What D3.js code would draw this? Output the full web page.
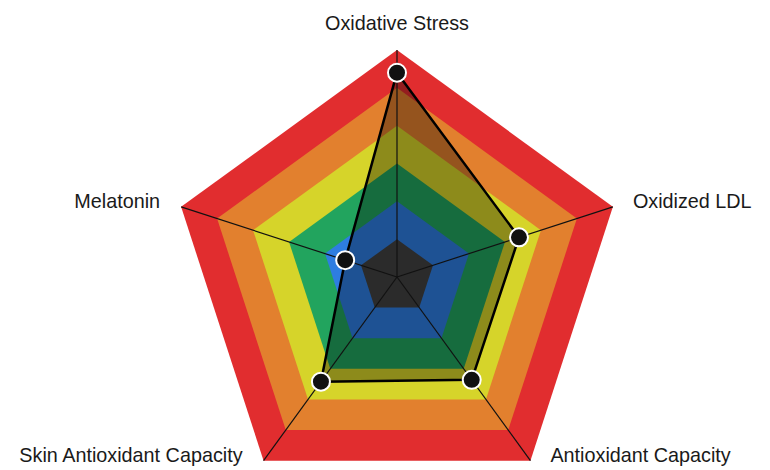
<!DOCTYPE html>
<html>
<head>
<meta charset="utf-8">
<script src="https://cdn.jsdelivr.net/npm/d3@7"></script>
<style>
  body { margin: 0; background: #fff; }
  svg { display: block; }
  text { font-family: "Liberation Sans", Arial, sans-serif; font-size: 19.8px; fill: #1a1a1a; }
</style>
</head>
<body>
<div id="chart"></div>
<script>
// axes, going clockwise from the top
var axes = ["Oxidative Stress", "Oxidized LDL", "Antioxidant Capacity", "Skin Antioxidant Capacity", "Melatonin"];
var values = [90, 56.5, 56, 57, 24];
// background bands, inside to outside
var levels = [1, 2, 3, 4, 5, 6];
var levelColors = ["#424242", "#2e7de1", "#22a45e", "#d6d42a", "#e2802e", "#e12d2f"];

var width = 770, height = 470;
var cx = 397, cy = 277, R = 227;

var svg = d3.select("#chart").append("svg")
    .attr("width", width)
    .attr("height", height);

var g = svg.append("g").attr("transform", "translate(" + cx + "," + cy + ")");

var r = d3.scaleLinear().domain([0, 100]).range([0, R]);
var lvl = d3.scaleLinear().domain([0, 6]).range([0, R]);
var angle = d3.scaleLinear().domain([0, axes.length]).range([0, 2 * Math.PI]);

function pt(i, rad) {
  var a = angle(i);
  return [rad * Math.sin(a), -rad * Math.cos(a)];
}

var ring = d3.line().curve(d3.curveLinearClosed);

// bands, outermost first
g.selectAll(".band")
  .data(levels.slice().reverse())
  .enter().append("path")
    .attr("class", "band")
    .attr("d", function(l) { return ring(axes.map(function(a, i) { return pt(i, lvl(l)); })); })
    .style("fill", function(l) { return levelColors[l - 1]; });

// data shape
g.append("path")
  .attr("d", ring(values.map(function(v, i) { return pt(i, r(v)); })))
  .style("fill", "#000")
  .style("fill-opacity", 0.34)
  .style("stroke", "#000")
  .style("stroke-width", 2.5)
  .style("stroke-linejoin", "round");

// spokes
g.selectAll(".spoke")
  .data(axes)
  .enter().append("line")
    .attr("class", "spoke")
    .attr("x1", 0).attr("y1", 0)
    .attr("x2", function(d, i) { return pt(i, R)[0]; })
    .attr("y2", function(d, i) { return pt(i, R)[1]; })
    .style("stroke", "#111")
    .style("stroke-width", 1.2);

// points
g.selectAll(".dot")
  .data(values)
  .enter().append("circle")
    .attr("class", "dot")
    .attr("cx", function(v, i) { return pt(i, r(v))[0]; })
    .attr("cy", function(v, i) { return pt(i, r(v))[1]; })
    .attr("r", 9)
    .style("fill", "#111")
    .style("stroke", "#fff")
    .style("stroke-width", 2);

// labels
g.selectAll(".label")
  .data(axes)
  .enter().append("text")
    .attr("class", "label")
    .attr("x", function(d, i) {
      var p = pt(i, R);
      if (i == 0) return p[0];
      return p[0] + (p[0] > 0 ? 20 : -21);
    })
    .attr("y", function(d, i) {
      var p = pt(i, R);
      if (i == 0) return p[1] - 20;
      return p[1] + 1;
    })
    .attr("text-anchor", function(d, i) {
      if (i == 0) return "middle";
      return pt(i, R)[0] > 0 ? "start" : "end";
    })
    .text(function(d) { return d; });
</script>
</body>
</html>
